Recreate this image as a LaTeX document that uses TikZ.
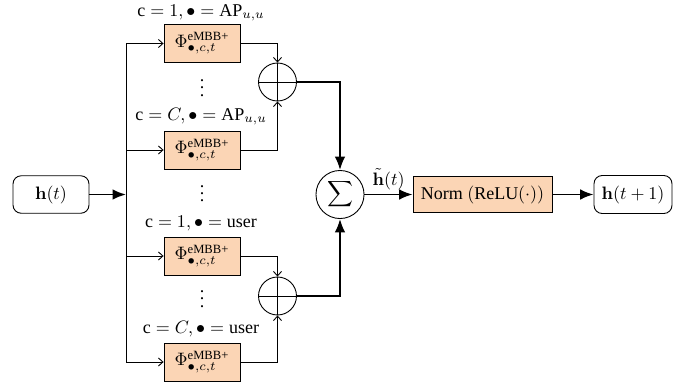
\documentclass[tikz,border=0pt]{standalone}
\usepackage{amsmath}
\usepackage[no-math]{fontspec}
\setmainfont{Liberation Serif}
\usetikzlibrary{arrows.meta}
\definecolor{peach}{RGB}{251,213,181}
\begin{document}
\begin{tikzpicture}[x=0.5556pt,y=-0.5556pt,
  thinln/.style={line width=0.5pt},
  phibox/.style={draw, fill=peach, minimum width=42.2pt, minimum height=21.1pt, inner sep=0pt, line width=0.5pt},
  rbox/.style={draw, rounded corners=4.5pt, minimum width=42.2pt, minimum height=20.8pt, inner sep=0pt, line width=0.5pt},
  oplusnode/.style={circle, draw, line width=0.5pt, minimum size=21.1pt, inner sep=0pt,
     path picture={\draw[line width=0.5pt] (path picture bounding box.north) -- (path picture bounding box.south)
       (path picture bounding box.west) -- (path picture bounding box.east);}},
  sumnode/.style={circle, draw, line width=0.5pt, minimum size=26.7pt, inner sep=0pt},
  thinarr/.style={line width=0.5pt, -{Straight Barb[length=2.5pt,width=4.5pt]}},
  thickarrow/.style={line width=1.1pt, -{Latex[length=7.5pt,width=6pt]}},
  lbl/.style={anchor=base, inner sep=0pt}
]
\useasboundingbox (0,0) rectangle (692,388);

% input
\node[rbox] (hin) at (51,194.5) {$\mathbf{h}(t)$};
\coordinate (bus) at (126,194.5);
\coordinate (bustop) at (126,43.5);
\coordinate (busbot) at (126,362);

% Phi boxes
\node[phibox] (p1) at (202,43.5) {$\Phi^{\text{eMBB+}}_{\bullet,c,t}$};
\node[phibox] (p2) at (202,150) {$\Phi^{\text{eMBB+}}_{\bullet,c,t}$};
\node[phibox] (p3) at (202,256) {$\Phi^{\text{eMBB+}}_{\bullet,c,t}$};
\node[phibox] (p4) at (202,362) {$\Phi^{\text{eMBB+}}_{\bullet,c,t}$};

% labels
\node[lbl] (l1) at (201,16) {$\text{c} = 1, \bullet = \text{AP}_{u,u}$};
\node[lbl] (l2) at (201,120) {$\text{c} = C, \bullet = \text{AP}_{u,u}$};
\node[lbl] (l3) at (201,227) {$\text{c} = 1, \bullet = \text{user}$};
\node[lbl] (l4) at (201,333) {$\text{c} = C, \bullet = \text{user}$};

% vdots
\node[lbl] (d1) at (202,96) {$\vdots$};
\node[lbl] (d2) at (202,201.5) {$\vdots$};
\node[lbl] (d3) at (202,307) {$\vdots$};

% bus
\draw[thinln] (bustop) -- (busbot);
\draw[thickarrow] (hin.east) -- (bus);
\draw[thinarr] (bustop) -- (p1.west);
\draw[thinarr] (bustop |- p2.west) -- (p2.west);
\draw[thinarr] (bustop |- p3.west) -- (p3.west);
\draw[thinarr] (busbot) -- (p4.west);

% oplus
\node[oplusnode] (o1) at (277.5,82) {};
\node[oplusnode] (o2) at (277.5,296) {};
\draw[thinarr] (p1.east) -| (o1.north);
\draw[thinarr] (p2.east) -| (o1.south);
\draw[thinarr] (p3.east) -| (o2.north);
\draw[thinarr] (p4.east) -| (o2.south);

% sum
\node[sumnode] (s) at (340,194.5) {$\displaystyle\sum$};
\draw[thickarrow] (o1.east) -| (s.north);
\draw[thickarrow] (o2.east) -| (s.south);

% norm and output
\node[phibox, minimum width=77.2pt, minimum height=20pt] (n) at (482.5,194.5) {Norm $(\text{ReLU}(\cdot))$};
\node[rbox, minimum width=43.3pt, minimum height=21.1pt] (hout) at (633,194.5) {$\mathbf{h}(t+1)$};
\draw[thickarrow] (s.east) -- node[above, inner sep=2pt] (ht) {$\tilde{\mathbf{h}}(t)$} (n.west);
\draw[thickarrow] (n.east) -- (hout.west);
\end{tikzpicture}
\end{document}
